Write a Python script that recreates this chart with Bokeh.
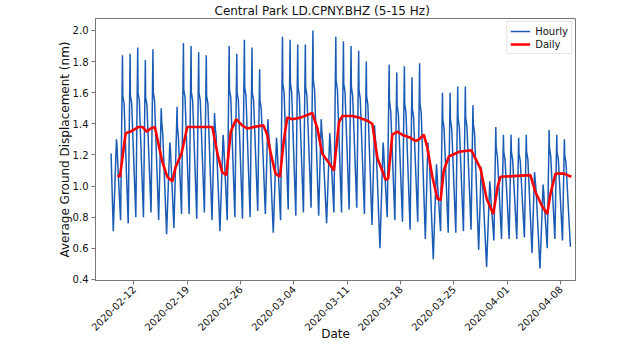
import math
import pandas as pd
from bokeh.plotting import figure
from bokeh.models import (FixedTicker, DatetimeTickFormatter, Range1d, PrintfTickFormatter,
                          Legend, LegendItem)
from bokeh.embed import file_html
from bokeh.resources import INLINE

# ---------------- data ----------------
title_text = "Central Park LD.CPNY.BHZ (5-15 Hz)"
x_label_text = "Date"
y_label_text = "Average Ground Displacement (nm)"

# Hourly series: per UTC day, trough / peak / shoulder / late values
first_time, first_value = "2020-02-09 00:00", 1.21
last_time, last_value = "2020-04-09 07:00", 0.61
day_kind = "UWWWWWSUHWWWWSUWWWWWSUWWWWWSUWWWWWSUWWWWWSUWWWWWSUWWWWWSUWWW"
trough = [0.71, 0.78, 0.76, 0.80, 0.80, 0.83, 0.78, 0.69, 0.73, 0.82, 0.82, 0.79, 0.83,
          0.78, 0.71, 0.78, 0.80, 0.79, 0.80, 0.84, 0.82, 0.70, 0.78, 0.85, 0.81, 0.83,
          0.86, 0.81, 0.76, 0.83, 0.83, 0.85, 0.86, 0.82, 0.75, 0.60, 0.80, 0.78, 0.77,
          0.72, 0.77, 0.66, 0.53, 0.71, 0.70, 0.70, 0.71, 0.72, 0.59, 0.48, 0.65, 0.66,
          0.66, 0.66, 0.67, 0.57, 0.47, 0.60, 0.66, 0.65]
peak = [1.30, 1.84, 1.85, 1.89, 1.81, 1.88, 1.50, 1.28, 1.51, 1.92, 1.90, 1.86, 1.84,
        1.47, 1.33, 1.90, 1.85, 1.94, 1.89, 1.75, 1.43, 1.31, 1.96, 1.94, 1.91, 1.91,
        2.00, 1.43, 1.34, 1.96, 1.93, 1.90, 1.87, 1.80, 1.39, 1.28, 1.78, 1.73, 1.77,
        1.70, 1.79, 1.28, 1.14, 1.60, 1.60, 1.64, 1.64, 1.52, 1.12, 1.03, 1.38, 1.33,
        1.33, 1.31, 1.33, 1.09, 1.01, 1.36, 1.33, 1.30]
shoulder = [1.25, 1.58, 1.58, 1.60, 1.57, 1.60, 1.40, 1.24, 1.38, 1.62, 1.60, 1.60, 1.58,
            1.38, 1.27, 1.62, 1.60, 1.64, 1.60, 1.55, 1.35, 1.26, 1.66, 1.66, 1.64, 1.64,
            1.68, 1.35, 1.28, 1.68, 1.66, 1.64, 1.62, 1.58, 1.32, 1.22, 1.55, 1.52, 1.53,
            1.50, 1.53, 1.22, 1.08, 1.43, 1.43, 1.44, 1.44, 1.40, 1.06, 0.98, 1.25, 1.22,
            1.22, 1.21, 1.22, 1.04, 0.96, 1.25, 1.22, 1.20]
late = [1.15, 1.53, 1.53, 1.55, 1.52, 1.55, 1.33, 1.15, 1.32, 1.57, 1.55, 1.55, 1.53,
        1.32, 1.18, 1.57, 1.55, 1.58, 1.55, 1.50, 1.28, 1.17, 1.60, 1.60, 1.58, 1.58,
        1.62, 1.28, 1.19, 1.62, 1.60, 1.58, 1.56, 1.52, 1.25, 1.13, 1.48, 1.46, 1.47,
        1.44, 1.47, 1.15, 0.99, 1.37, 1.37, 1.38, 1.38, 1.34, 0.99, 0.90, 1.19, 1.17,
        1.17, 1.16, 1.17, 0.97, 0.88, 1.19, 1.17, 1.15]
# hour of day (UTC) of trough, peak, shoulder and late points per kind of day
anchor_hours = {"W": (6, 12, 13, 17), "S": (6, 14, 16, 19), "U": (7, 17, 19, 21), "H": (6, 16, 17, 20)}

# Daily (24 h mean) series
daily_times = ["2020-02-09 20:00", "2020-02-10 04:00", "2020-02-10 22:00", "2020-02-11 14:00",
               "2020-02-12 15:00", "2020-02-13 03:00", "2020-02-13 16:00", "2020-02-14 05:00",
               "2020-02-14 18:00", "2020-02-15 17:00", "2020-02-16 09:00", "2020-02-17 01:00",
               "2020-02-17 11:00", "2020-02-18 06:00", "2020-02-19 00:00", "2020-02-22 07:00",
               "2020-02-22 23:00", "2020-02-23 14:00", "2020-02-24 03:00", "2020-02-24 17:00",
               "2020-02-25 10:00", "2020-02-26 05:00", "2020-02-26 21:00", "2020-02-27 18:00",
               "2020-02-29 00:00", "2020-02-29 12:00", "2020-02-29 23:00", "2020-03-01 14:00",
               "2020-03-02 04:00", "2020-03-02 16:00", "2020-03-03 03:00", "2020-03-03 19:00",
               "2020-03-04 21:00", "2020-03-06 10:00", "2020-03-07 02:00", "2020-03-07 17:00",
               "2020-03-08 14:00", "2020-03-09 06:00", "2020-03-09 22:00", "2020-03-10 08:00",
               "2020-03-11 16:00", "2020-03-12 13:00", "2020-03-13 15:00", "2020-03-14 07:00",
               "2020-03-14 23:00", "2020-03-15 14:00", "2020-03-16 01:00", "2020-03-16 09:00",
               "2020-03-16 22:00", "2020-03-17 14:00", "2020-03-18 05:00", "2020-03-19 07:00",
               "2020-03-19 23:00", "2020-03-20 10:00", "2020-03-21 01:00", "2020-03-21 12:00",
               "2020-03-22 04:00", "2020-03-22 20:00", "2020-03-23 06:00", "2020-03-23 16:00",
               "2020-03-24 08:00", "2020-03-25 16:00", "2020-03-27 07:00", "2020-03-28 12:00",
               "2020-03-29 07:00", "2020-03-30 04:00", "2020-03-30 18:00", "2020-03-31 03:00",
               "2020-04-04 01:00", "2020-04-04 17:00", "2020-04-05 14:00", "2020-04-06 06:00",
               "2020-04-06 16:00", "2020-04-07 08:00", "2020-04-08 10:00", "2020-04-09 10:00"]
daily_values = [1.07, 1.06, 1.34, 1.35, 1.38, 1.38, 1.35, 1.37, 1.38, 1.16, 1.06, 1.03,
                1.12, 1.21, 1.38, 1.38, 1.21, 1.09, 1.07, 1.35, 1.43, 1.39, 1.37, 1.38,
                1.39, 1.33, 1.21, 1.08, 1.06, 1.29, 1.44, 1.43, 1.44, 1.47, 1.37, 1.21,
                1.15, 1.10, 1.41, 1.45, 1.45, 1.44, 1.42, 1.40, 1.18, 1.10, 1.04, 1.05,
                1.33, 1.35, 1.33, 1.31, 1.29, 1.30, 1.33, 1.25, 1.06, 0.92, 0.91, 1.10,
                1.19, 1.22, 1.23, 1.11, 0.92, 0.82, 1.00, 1.06, 1.07, 0.96, 0.87, 0.82,
                0.95, 1.08, 1.08, 1.06]

tick_dates = ["2020-02-12", "2020-02-19", "2020-02-26", "2020-03-04", "2020-03-11",
              "2020-03-18", "2020-03-25", "2020-04-01", "2020-04-08"]
y_ticks = [0.4, 0.6, 0.8, 1.0, 1.2, 1.4, 1.6, 1.8, 2.0]

# ---------------- build hourly anchor points ----------------
days = pd.date_range("2020-02-09", periods=len(day_kind), freq="D")
h_t = [pd.Timestamp(first_time)]
h_v = [first_value]
for i, d in enumerate(days):
    hrs = anchor_hours[day_kind[i]]
    for hh, v in zip(hrs, (trough[i], peak[i], shoulder[i], late[i])):
        h_t.append(d + pd.Timedelta(hours=hh))
        h_v.append(v)
h_t.append(pd.Timestamp(last_time))
h_v.append(last_value)

d_t = [pd.Timestamp(t) for t in daily_times]

# ---------------- figure ----------------
FONT = "DejaVu Sans"
p = figure(width=624, height=344, x_axis_type="datetime",
           output_backend="svg", toolbar_location=None,
           x_range=Range1d(pd.Timestamp("2020-02-06 23:00"), pd.Timestamp("2020-04-09 23:00")),
           y_range=Range1d(0.393, 2.077),
           min_border_left=95, min_border_right=49, min_border_top=13, min_border_bottom=50)

p.title.text = title_text
p.title.align = "left"
p.title.offset = 119
p.title.text_font = FONT
p.title.text_font_size = "12px"
p.title.text_font_style = "normal"
p.title.text_color = "#111111"
p.title.standoff = 2

r_h = p.line(h_t, h_v, line_color="#1a5cb5", line_width=1.5)
r_d = p.line(d_t, daily_values, line_color="#ff0000", line_width=2.6)

legend = Legend(items=[LegendItem(label="Hourly", renderers=[r_h]),
                       LegendItem(label="Daily", renderers=[r_d])],
                location="top_right")
legend.label_text_font = FONT
legend.label_text_font_size = "10px"
legend.label_text_color = "#111111"
legend.glyph_width = 20
legend.glyph_height = 12
legend.label_height = 12
legend.label_standoff = 5
legend.spacing = 1
legend.padding = 3
legend.margin = 3
legend.border_line_color = "#cccccc"
legend.border_line_width = 1
legend.background_fill_alpha = 0.9
p.add_layout(legend)

p.xgrid.visible = False
p.ygrid.visible = False
p.outline_line_color = "#777777"
p.outline_line_width = 1

p.xaxis.ticker = FixedTicker(ticks=[pd.Timestamp(t).value / 1e6 for t in tick_dates])
p.xaxis.formatter = DatetimeTickFormatter(days="%Y-%m-%d", months="%Y-%m-%d", hours="%Y-%m-%d",
                                          years="%Y-%m-%d")
p.xaxis.major_label_orientation = math.pi / 4
p.yaxis.ticker = FixedTicker(ticks=y_ticks)
p.yaxis.formatter = PrintfTickFormatter(format="%.1f")

for ax in (p.xaxis[0], p.yaxis[0]):
    ax.axis_line_color = "#777777"
    ax.major_tick_line_color = "#777777"
    ax.major_tick_out = 4
    ax.major_tick_in = 0
    ax.minor_tick_line_color = None
    ax.major_label_text_font = FONT
    ax.major_label_text_font_size = "10px"
    ax.major_label_text_color = "#111111"
    ax.major_label_standoff = 3
    ax.axis_label_text_font = FONT
    ax.axis_label_text_font_size = "12px"
    ax.axis_label_text_font_style = "normal"
    ax.axis_label_text_color = "#111111"

p.xaxis.axis_label = x_label_text
p.yaxis.axis_label = y_label_text
p.xaxis.axis_label_standoff = -10
p.yaxis.axis_label_standoff = -2

open("out.html", "w").write(file_html(p, INLINE))
